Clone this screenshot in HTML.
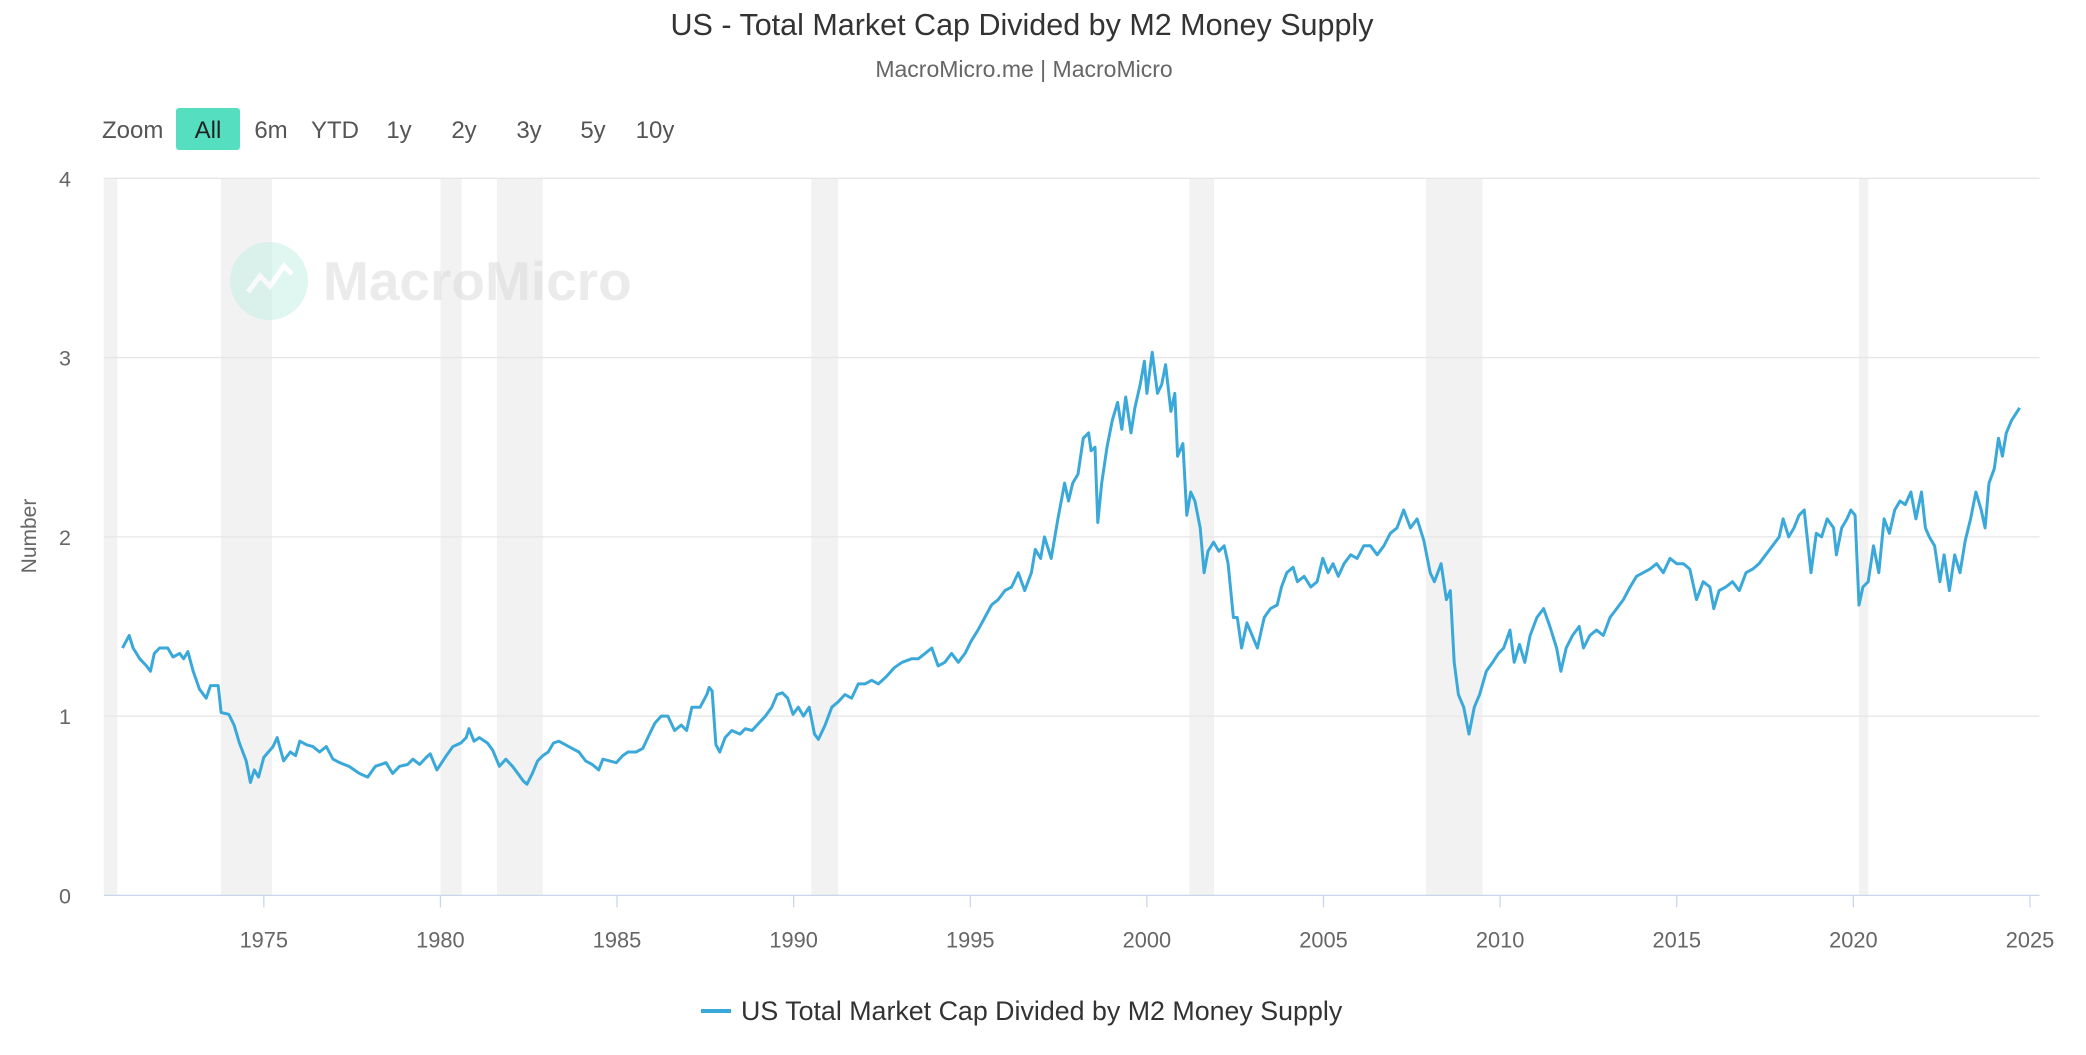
<!DOCTYPE html>
<html><head><meta charset="utf-8">
<style>
body{margin:0;background:#fff;width:2086px;height:1050px;overflow:hidden;font-family:"Liberation Sans",sans-serif;}
svg text{font-family:"Liberation Sans",sans-serif;}
</style></head>
<body>
<svg id="chart" width="2086" height="1050" xmlns="http://www.w3.org/2000/svg">
<text x="1022" y="35" text-anchor="middle" font-size="30.5" fill="#333">US - Total Market Cap Divided by M2 Money Supply</text>
<text x="1024" y="77" text-anchor="middle" font-size="23" fill="#666">MacroMicro.me | MacroMicro</text>
<g font-size="24" fill="#555">
<text x="102" y="138">Zoom</text>
<rect x="176" y="108" width="64" height="42" rx="3" fill="#55dfc0"/>
<text x="208" y="138" text-anchor="middle" fill="#222">All</text>
<text x="271" y="138" text-anchor="middle">6m</text>
<text x="335" y="138" text-anchor="middle">YTD</text>
<text x="399" y="138" text-anchor="middle">1y</text>
<text x="464" y="138" text-anchor="middle">2y</text>
<text x="529" y="138" text-anchor="middle">3y</text>
<text x="593" y="138" text-anchor="middle">5y</text>
<text x="655" y="138" text-anchor="middle">10y</text>
</g>
<g id="bands"></g>
<g id="grid"></g>
<g opacity="0.55">
<circle cx="269" cy="281" r="39" fill="#c8f0e4"/>
<polyline points="248,292 260,276 270,286 284,266 292,274" fill="none" stroke="#fff" stroke-width="5"/>
<text x="323" y="300" font-size="55" font-weight="bold" fill="#dcdcdc">MacroMicro</text>
</g>
<g id="axes"></g>
<path id="line" fill="none" stroke="#3aa9d9" stroke-width="3" stroke-linejoin="round"/>
<text transform="translate(36,536) rotate(-90)" text-anchor="middle" font-size="21" fill="#666">Number</text>
<g>
<line x1="701" y1="1011" x2="731" y2="1011" stroke="#3aa9d9" stroke-width="4"/>
<text x="741" y="1020" font-size="26.8" fill="#333">US Total Market Cap Divided by M2 Money Supply</text>
</g>
</svg>
<script>
const years=[1971.00,1971.19,1971.30,1971.49,1971.68,1971.79,1971.90,1972.05,1972.28,1972.43,1972.62,1972.73,1972.85,1973.00,1973.18,1973.37,1973.49,1973.71,1973.79,1974.01,1974.16,1974.31,1974.50,1974.62,1974.73,1974.85,1975.00,1975.26,1975.38,1975.56,1975.75,1975.90,1976.02,1976.21,1976.39,1976.58,1976.77,1976.96,1977.15,1977.41,1977.71,1977.94,1978.16,1978.46,1978.65,1978.84,1979.07,1979.22,1979.41,1979.60,1979.71,1979.90,1980.17,1980.35,1980.58,1980.73,1980.81,1980.95,1981.10,1981.33,1981.48,1981.67,1981.85,1982.04,1982.23,1982.34,1982.45,1982.60,1982.75,1982.90,1983.05,1983.20,1983.35,1983.54,1983.73,1983.92,1984.11,1984.30,1984.48,1984.60,1984.79,1984.98,1985.16,1985.31,1985.54,1985.73,1985.92,1986.07,1986.25,1986.44,1986.63,1986.82,1986.97,1987.12,1987.35,1987.54,1987.61,1987.69,1987.80,1987.91,1988.06,1988.25,1988.48,1988.63,1988.82,1989.01,1989.20,1989.38,1989.53,1989.68,1989.83,1989.98,1990.13,1990.28,1990.44,1990.59,1990.70,1990.89,1991.08,1991.26,1991.45,1991.64,1991.83,1992.02,1992.21,1992.40,1992.62,1992.85,1993.07,1993.34,1993.53,1993.72,1993.91,1994.09,1994.28,1994.47,1994.66,1994.85,1995.03,1995.22,1995.41,1995.60,1995.79,1995.98,1996.17,1996.36,1996.54,1996.73,1996.84,1996.99,1997.10,1997.29,1997.48,1997.67,1997.78,1997.90,1998.05,1998.20,1998.35,1998.42,1998.53,1998.61,1998.72,1998.87,1999.02,1999.17,1999.29,1999.40,1999.55,1999.66,1999.81,1999.93,2000.00,2000.15,2000.30,2000.42,2000.53,2000.68,2000.79,2000.87,2001.02,2001.13,2001.24,2001.36,2001.51,2001.62,2001.73,2001.89,2002.04,2002.19,2002.30,2002.45,2002.56,2002.68,2002.83,2002.98,2003.13,2003.32,2003.50,2003.69,2003.81,2003.96,2004.14,2004.26,2004.45,2004.64,2004.82,2004.98,2005.13,2005.27,2005.42,2005.58,2005.77,2005.95,2006.14,2006.33,2006.52,2006.71,2006.89,2007.08,2007.27,2007.46,2007.65,2007.84,2008.02,2008.14,2008.33,2008.48,2008.59,2008.70,2008.82,2008.97,2009.12,2009.27,2009.42,2009.61,2009.79,2009.95,2010.10,2010.28,2010.40,2010.55,2010.70,2010.85,2011.04,2011.23,2011.41,2011.60,2011.72,2011.87,2012.05,2012.24,2012.36,2012.54,2012.73,2012.92,2013.11,2013.30,2013.49,2013.68,2013.86,2014.05,2014.24,2014.43,2014.62,2014.81,2015.00,2015.19,2015.37,2015.56,2015.75,2015.94,2016.05,2016.20,2016.39,2016.58,2016.77,2016.96,2017.15,2017.33,2017.52,2017.71,2017.90,2018.01,2018.17,2018.32,2018.46,2018.61,2018.80,2018.95,2019.10,2019.26,2019.44,2019.52,2019.67,2019.82,2019.93,2020.05,2020.16,2020.27,2020.42,2020.57,2020.72,2020.87,2021.02,2021.17,2021.32,2021.47,2021.63,2021.77,2021.93,2022.04,2022.15,2022.30,2022.45,2022.57,2022.72,2022.87,2023.02,2023.17,2023.32,2023.47,2023.62,2023.73,2023.84,2023.99,2024.11,2024.22,2024.33,2024.48,2024.71];
const values=[1.38,1.45,1.38,1.32,1.28,1.25,1.35,1.38,1.38,1.33,1.35,1.32,1.36,1.25,1.15,1.10,1.17,1.17,1.02,1.01,0.95,0.85,0.75,0.63,0.70,0.66,0.77,0.83,0.88,0.75,0.80,0.78,0.86,0.84,0.83,0.80,0.83,0.76,0.74,0.72,0.68,0.66,0.72,0.74,0.68,0.72,0.73,0.76,0.73,0.77,0.79,0.70,0.78,0.83,0.85,0.88,0.93,0.86,0.88,0.85,0.81,0.72,0.76,0.72,0.67,0.64,0.62,0.68,0.75,0.78,0.80,0.85,0.86,0.84,0.82,0.80,0.75,0.73,0.70,0.76,0.75,0.74,0.78,0.80,0.80,0.82,0.90,0.96,1.00,1.00,0.92,0.95,0.92,1.05,1.05,1.12,1.16,1.14,0.84,0.80,0.88,0.92,0.90,0.93,0.92,0.96,1.00,1.05,1.12,1.13,1.10,1.01,1.05,1.00,1.05,0.90,0.87,0.95,1.05,1.08,1.12,1.10,1.18,1.18,1.20,1.18,1.22,1.27,1.30,1.32,1.32,1.35,1.38,1.28,1.30,1.35,1.30,1.35,1.42,1.48,1.55,1.62,1.65,1.70,1.72,1.80,1.70,1.80,1.93,1.88,2.00,1.88,2.10,2.30,2.20,2.30,2.35,2.55,2.58,2.48,2.50,2.08,2.30,2.50,2.65,2.75,2.60,2.78,2.58,2.72,2.85,2.98,2.80,3.03,2.80,2.85,2.96,2.70,2.80,2.45,2.52,2.12,2.25,2.20,2.05,1.80,1.92,1.97,1.92,1.95,1.85,1.55,1.55,1.38,1.52,1.45,1.38,1.55,1.60,1.62,1.72,1.80,1.83,1.75,1.78,1.72,1.75,1.88,1.80,1.85,1.78,1.85,1.90,1.88,1.95,1.95,1.90,1.95,2.02,2.05,2.15,2.05,2.10,1.98,1.80,1.75,1.85,1.65,1.70,1.30,1.12,1.05,0.90,1.05,1.12,1.25,1.30,1.35,1.38,1.48,1.30,1.40,1.30,1.45,1.55,1.60,1.50,1.38,1.25,1.38,1.45,1.50,1.38,1.45,1.48,1.45,1.55,1.60,1.65,1.72,1.78,1.80,1.82,1.85,1.80,1.88,1.85,1.85,1.82,1.65,1.75,1.72,1.60,1.70,1.72,1.75,1.70,1.80,1.82,1.85,1.90,1.95,2.00,2.10,2.00,2.05,2.12,2.15,1.80,2.02,2.00,2.10,2.05,1.90,2.05,2.10,2.15,2.12,1.62,1.72,1.75,1.95,1.80,2.10,2.02,2.15,2.20,2.18,2.25,2.10,2.25,2.05,2.00,1.95,1.75,1.90,1.70,1.90,1.80,1.98,2.10,2.25,2.15,2.05,2.30,2.38,2.55,2.45,2.58,2.65,2.72];
const recessionStarts=[1970.47,1973.79,1980.0,1981.6,1990.5,2001.2,2007.9,2020.16];
const recessionEnds=[1970.85,1975.23,1980.6,1982.9,1991.26,2001.9,2009.5,2020.42];
const xTicks=[1975,1980,1985,1990,1995,2000,2005,2010,2015,2020,2025];
const yTicks=[0,1,2,3,4];
const X0=103.8,X1=2039.5,T0=1970.47,T1=2025.27,Y0=895.4,Y4=178.3;
const xs=t=>X0+(t-T0)/(T1-T0)*(X1-X0);
const ys=v=>Y0+(v/4)*(Y4-Y0);
const NS="http://www.w3.org/2000/svg";
function mk(tag,attrs,parent){const e=document.createElementNS(NS,tag);for(const k in attrs)e.setAttribute(k,attrs[k]);parent.appendChild(e);return e;}
const bands=document.getElementById('bands'),grid=document.getElementById('grid'),axes=document.getElementById('axes');
recessionStarts.forEach((s,i)=>{
 const r=mk('rect',{x:xs(s),y:Y4,width:xs(recessionEnds[i])-xs(s),height:Y0-Y4,fill:'#f2f2f2'},bands);
 
 
});
yTicks.forEach(v=>{
 const l=mk('line',{x1:X0,x2:X1,y1:ys(v),y2:ys(v),stroke:v===0?'#ccd6eb':'#e6e6e6','stroke-width':1.3},grid);
 
 
 const t=mk('text',{x:71,y:ys(v)+8,'text-anchor':'end','font-size':21.5,fill:'#666'},axes);
 t.textContent=v;
 
 
});
xTicks.forEach(y=>{
 const tk=mk('line',{x1:xs(y),x2:xs(y),y1:Y0,y2:Y0+12,stroke:'#ccd6eb','stroke-width':1.3},axes);
 
 
 const t=mk('text',{x:xs(y),y:Y0+52,'text-anchor':'middle','font-size':21.8,fill:'#666'},axes);
 t.textContent=y;
 
 
});
document.getElementById('line').setAttribute('d',years.map((t,i)=>(i?'L':'M')+xs(t).toFixed(1)+','+ys(values[i]).toFixed(1)).join(''));
</script>
</body></html>
